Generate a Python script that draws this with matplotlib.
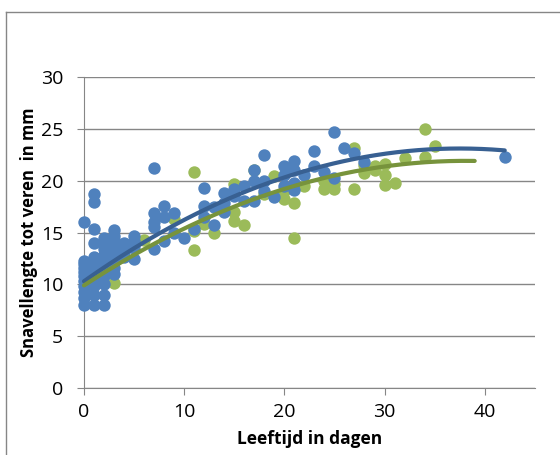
import matplotlib.pyplot as plt
from matplotlib.lines import Line2D
import numpy as np

plt.rcParams['font.family'] = ['Open Sans', 'DejaVu Sans']

## DATA
blue_x = [0, 0, 0, 0, 0, 0, 0, 0, 0, 0, 0,
          1, 1, 1, 1, 1, 1, 1, 1, 1, 1, 1, 1,
          2, 2, 2, 2, 2, 2, 2, 2, 2, 2,
          3, 3, 3, 3, 3, 3, 3, 3, 3,
          4, 4, 4, 4, 5, 5, 5, 5,
          7, 7, 7, 7, 7, 8, 8, 8, 9, 9, 10, 11,
          12, 12, 12, 13, 13, 14, 14, 14, 15, 15, 16, 16,
          17, 17, 17, 18, 18, 18, 19, 20, 20, 20,
          21, 21, 21, 21, 22, 23, 23, 24, 25, 25, 26, 27, 28, 42]
blue_y = [8, 8.7, 9.3, 9.8, 10.3, 10.8, 11.2, 11.6, 12.0, 12.3, 16.0,
          8, 9, 9.8, 10.4, 11, 11.6, 12.2, 12.6, 14.0, 15.3, 17.9, 18.7,
          8, 9, 10, 10.8, 11.5, 12.2, 12.8, 13.4, 14.0, 14.5,
          11.0, 11.6, 12.2, 12.8, 13.3, 13.8, 14.3, 14.7, 15.2,
          12.6, 13.1, 13.6, 14.0, 12.4, 13.5, 14.2, 14.7,
          21.2, 16.9, 16.0, 15.5, 13.4, 17.6, 16.5, 14.2, 16.9, 15.0, 14.5, 15.3,
          19.3, 17.6, 16.5, 17.5, 15.75, 18.8, 17.8, 17.0, 19.2, 18.5, 18.0, 19.5,
          21.0, 20.0, 18.0, 22.5, 20.0, 19.0, 18.4, 21.45, 20.5, 19.5,
          21.9, 21.0, 19.8, 19.05, 20.5, 22.9, 21.45, 20.8, 24.65, 20.3, 23.15, 22.7, 21.8, 22.3]

green_x = [3, 6, 9, 11, 11, 11, 12, 13, 15, 15, 15, 16, 17, 18, 19, 20, 20,
           21, 21, 22, 24, 24, 25, 25, 27, 27, 28, 28, 29, 29, 30, 30, 30,
           31, 32, 34, 34, 35]
green_y = [10.15, 14.25, 16.3, 20.8, 13.3, 15.1, 15.85, 15.0, 19.7, 16.1, 17.0,
           15.7, 21.0, 18.7, 20.4, 18.2, 19.0, 17.8, 14.5, 19.5, 19.2, 20.0,
           19.15, 19.7, 23.15, 19.2, 20.75, 21.5, 21.45, 21.0, 21.6, 19.6, 20.5,
           19.8, 22.2, 25.0, 22.25, 23.3]

# 2nd order polynomial trend lines as shown in the chart (c0, c1, c2) and their x-range
blue_trend = [10.3, 0.6825, -0.0091]
green_trend = [9.9, 0.6306, -0.00828]
blue_trend_end = 42
green_trend_end = 39

## FIGURE
fig = plt.figure(figsize=(5.6, 4.55), dpi=100)
ax = fig.add_axes([0.15, 0.147, 0.805, 0.684])

ax.scatter(green_x, green_y, s=80, color='#9BBB59', zorder=3, linewidths=0, clip_on=False)
ax.scatter(blue_x, blue_y, s=80, color='#4F81BD', zorder=4, linewidths=0, clip_on=False)

for coef, end, col in [(blue_trend, blue_trend_end, '#386092'),
                       (green_trend, green_trend_end, '#77933C')]:
    xx = np.linspace(0, end, 200)
    ax.plot(xx, np.polynomial.polynomial.polyval(xx, coef), color=col, lw=3,
            zorder=5, solid_capstyle='round', clip_on=False)

ax.set_xlim(0, 45)
ax.set_ylim(0, 30)
ax.set_xticks([0, 10, 20, 30, 40])
ax.set_yticks([0, 5, 10, 15, 20, 25, 30])
ax.yaxis.grid(True, color='#868686', lw=1)
ax.set_axisbelow(True)
for s in ['top', 'right']:
    ax.spines[s].set_visible(False)
for s in ['left', 'bottom']:
    ax.spines[s].set_color('#868686')
ax.tick_params(colors='#868686', labelcolor='black', labelsize=14, length=5)
ax.tick_params(axis='y', pad=10)
ax.tick_params(axis='x', pad=6)
ax.set_xlabel('Leeftijd in dagen', fontsize=12.5, fontweight='bold', labelpad=6)
ax.set_ylabel('Snavellengte tot veren  in mm', fontsize=12, fontweight='bold', labelpad=2)

# chart area border (cut off at right and bottom)
fig.add_artist(Line2D([0.011, 0.011], [0, 0.974], color='#868686', lw=1))
fig.add_artist(Line2D([0.011, 1], [0.974, 0.974], color='#868686', lw=1))

fig.savefig('out.png', dpi=100)
